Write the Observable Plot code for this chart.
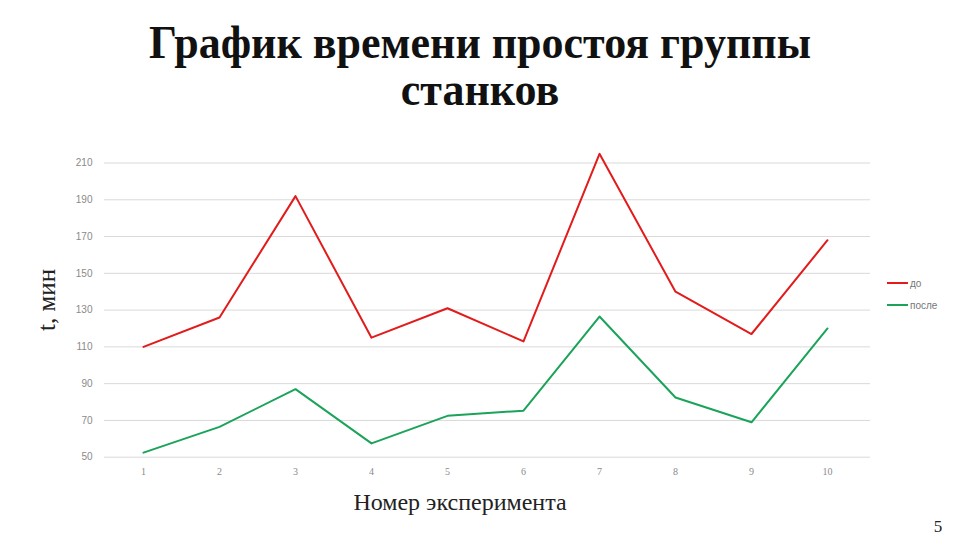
<!DOCTYPE html>
<html>
<head>
<meta charset="utf-8">
<script src="https://cdn.jsdelivr.net/npm/d3@7"></script>
<script src="https://cdn.jsdelivr.net/npm/@observablehq/plot@0.6"></script>
<style>
  html, body { margin: 0; padding: 0; background: #fff; }
  #wrap { position: relative; width: 960px; height: 540px; overflow: hidden; }
  #chart { position: absolute; left: 0; top: 0; }
  .title { position: absolute; left: 0; top: 20px; width: 960px; text-align: center;
           font-family: "Liberation Serif", serif; font-weight: bold; color: #111;
           font-size: 44px; line-height: 44.3px; transform: scaleY(1.06); transform-origin: 50% 0; }
  .ylab { position: absolute; font-family: "Liberation Serif", serif; font-size: 25px; color: #222;
          left: 47px; top: 300px; transform: translate(-50%, -50%) rotate(-90deg); white-space: nowrap; }
  .xlab { position: absolute; font-family: "Liberation Serif", serif; font-size: 24px; color: #222;
          left: 460px; top: 502px; transform: translate(-50%, -50%); white-space: nowrap; }
  .page { position: absolute; font-family: "Liberation Serif", serif; font-size: 17px; color: #222;
          left: 938px; top: 527px; transform: translate(-50%, -50%); }
  .legend { position: absolute; left: 887px; top: 272px; font-family: "Liberation Sans", sans-serif;
            font-size: 10px; color: #777; }
  .legend div { display: flex; align-items: center; height: 22px; }
  .legend i { display: inline-block; width: 21px; height: 2px; margin-right: 2px; }
</style>
</head>
<body>
<div id="wrap">
  <div class="title">График времени простоя группы<br>станков</div>
  <div id="chart"></div>
  <div class="ylab">t, мин</div>
  <div class="xlab">Номер эксперимента</div>
  <div class="legend" id="legend"></div>
  <div class="page">5</div>
</div>
<script>
const experiments = [1, 2, 3, 4, 5, 6, 7, 8, 9, 10];
const before = [110, 126, 192, 115, 131, 113, 215, 140, 117, 168];
const after = [52.5, 66.5, 87, 57.5, 72.5, 75.3, 126.5, 82.5, 69, 120];
const seriesNames = ["до", "после"];
const seriesColors = ["#e21b1b", "#1ba35a"];
const yTicks = [50, 70, 90, 110, 130, 150, 170, 190, 210];

const data = [];
experiments.forEach((e, i) => {
  data.push({exp: e, value: before[i], series: seriesNames[0]});
  data.push({exp: e, value: after[i], series: seriesNames[1]});
});

const plot = Plot.plot({
  width: 960,
  height: 540,
  marginLeft: 104,
  marginRight: 90,
  marginTop: 162.5,
  marginBottom: 83.3,
  style: {background: "transparent", fontFamily: "Liberation Sans, sans-serif"},
  x: {type: "point", domain: experiments, range: [140, 829], padding: 0, label: null},
  y: {domain: [50, 210], label: null},
  color: {domain: seriesNames, range: seriesColors},
  marks: [
    Plot.gridY(yTicks, {stroke: "#d9d9d9", strokeOpacity: 1, strokeWidth: 1}),
    Plot.axisY(yTicks, {tickSize: 0, tickPadding: 12, fontSize: 10, fill: "#8a8a8a", label: null}),
    Plot.axisX(experiments, {tickSize: 0, tickPadding: 11, fontSize: 10, fill: "#8a8a8a", fontFamily: "Liberation Serif, serif", label: null}),
    Plot.line(data, {x: "exp", y: "value", z: "series", stroke: "series", strokeWidth: 2})
  ]
});
document.getElementById("chart").appendChild(plot);

const legend = document.getElementById("legend");
seriesNames.forEach((n, i) => {
  const d = document.createElement("div");
  d.innerHTML = `<i style="background:${seriesColors[i]}"></i>${n}`;
  legend.appendChild(d);
});
</script>
</body>
</html>
